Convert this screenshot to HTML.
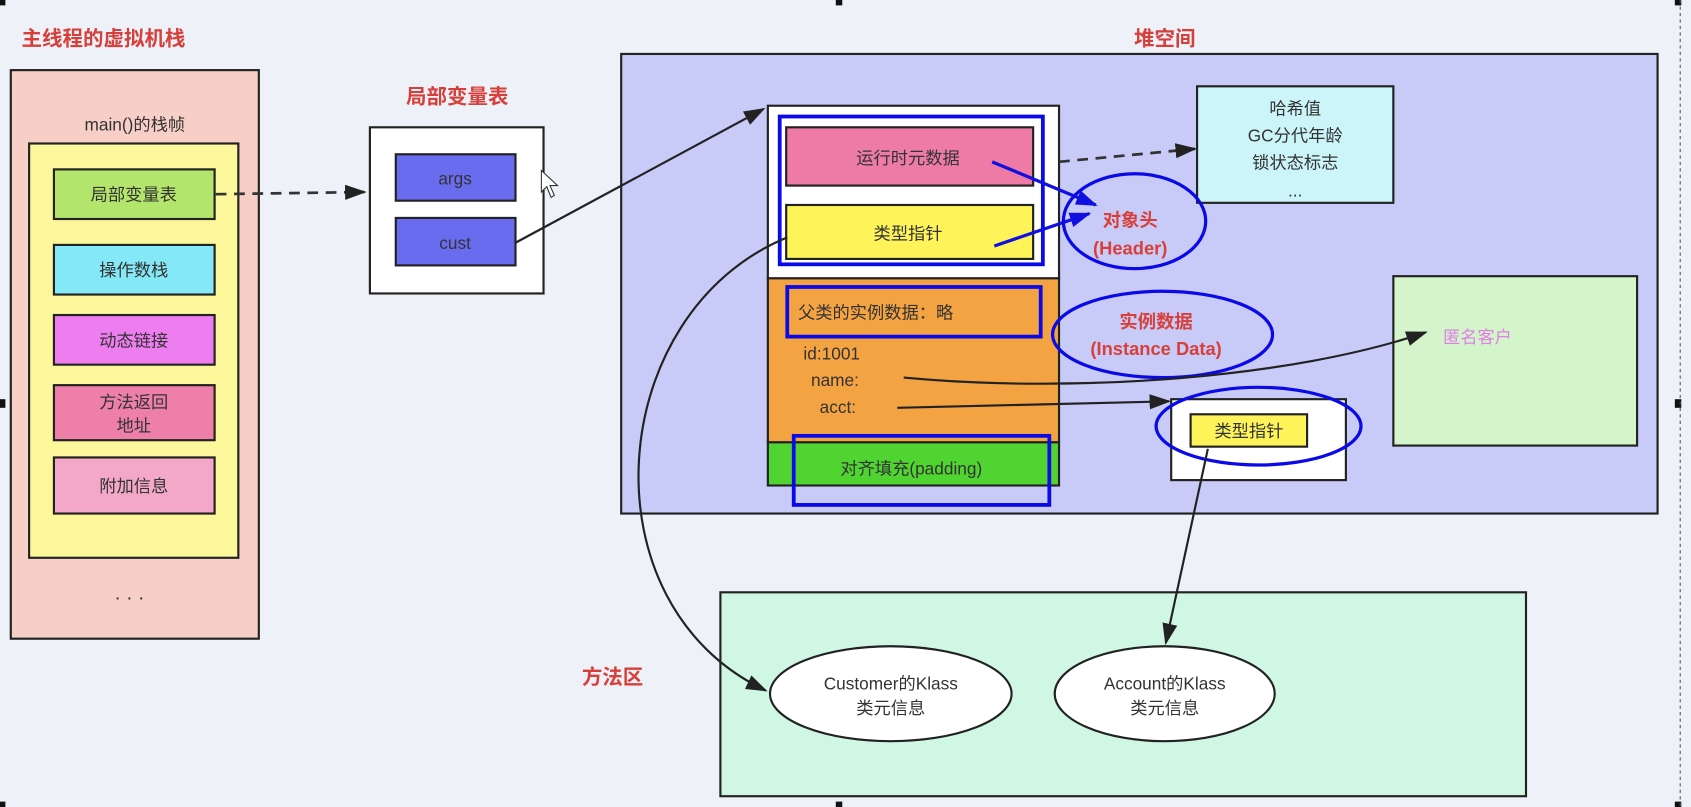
<!DOCTYPE html>
<html><head><meta charset="utf-8"><style>
html,body{margin:0;padding:0;background:#eef1f8;}
svg{display:block;}
text{font-family:"Liberation Sans","Noto Sans CJK SC",sans-serif;}
</style></head><body>
<svg width="1691" height="807" viewBox="0 0 1568 748" preserveAspectRatio="none" xmlns="http://www.w3.org/2000/svg">
<defs>
<marker id="a2" markerWidth="20" markerHeight="14" refX="18" refY="7" orient="auto" markerUnits="userSpaceOnUse"><path d="M0,0 L20,7 L0,14 z" fill="#222"/></marker>
<marker id="b" markerWidth="20" markerHeight="14" refX="18" refY="7" orient="auto" markerUnits="userSpaceOnUse"><path d="M0,0 L20,7 L0,14 z" fill="#1010e0"/></marker>
</defs>
<rect width="1568" height="748" fill="#eef1f8"/>
<g font-weight="bold" fill="#d7403a" font-size="19">
<text x="20" y="42">主线程的虚拟机栈</text>
<text x="424" y="96" text-anchor="middle">局部变量表</text>
<text x="1080" y="42" text-anchor="middle">堆空间</text>
<text x="850" y="86" text-anchor="middle">new Customer()实例</text>
<text x="1405" y="244" text-anchor="middle">字符串常量池</text>
<text x="1230" y="471" text-anchor="middle">new Account()实例</text>
<text x="568" y="634" text-anchor="middle">方法区</text>
</g>
<rect x="10" y="65" width="230" height="527" fill="#f8cfc6" stroke="#222" stroke-width="2"/>
<text x="125" y="121" font-size="16" text-anchor="middle" fill="#333">main()的栈帧</text>
<rect x="27" y="133" width="194" height="384" fill="#fdf79c" stroke="#222" stroke-width="2"/>
<g stroke="#222" stroke-width="2">
<rect x="50" y="157" width="149" height="46" fill="#b3e46b"/>
<rect x="50" y="227" width="149" height="46" fill="#84e8f6"/>
<rect x="50" y="292" width="149" height="46" fill="#ee7ef0"/>
<rect x="50" y="357" width="149" height="51" fill="#ee7fa8"/>
<rect x="50" y="424" width="149" height="52" fill="#f3a8c8"/>
</g>
<g font-size="16" fill="#333" text-anchor="middle">
<text x="124" y="186">局部变量表</text>
<text x="124" y="256">操作数栈</text>
<text x="124" y="321">动态链接</text>
<text x="124" y="378">方法返回</text>
<text x="124" y="400">地址</text>
<text x="124" y="456">附加信息</text>
<text x="120" y="560" font-size="18">· · ·</text>
</g>
<line x1="200" y1="180" x2="338" y2="178" stroke="#333" stroke-width="2.5" stroke-dasharray="10,7" marker-end="url(#a2)"/>
<rect x="343" y="118" width="161" height="154" fill="#fff" stroke="#222" stroke-width="2"/>
<rect x="367" y="143" width="111" height="43" fill="#6a6cf0" stroke="#222" stroke-width="2"/>
<rect x="367" y="202" width="111" height="44" fill="#6a6cf0" stroke="#222" stroke-width="2"/>
<text x="422" y="171" font-size="16" fill="#333" text-anchor="middle">args</text>
<text x="422" y="231" font-size="16" fill="#333" text-anchor="middle">cust</text>
<path d="M502,158 L502,178 L507,173 L511,183 L514,181 L510,172 L517,172 z" fill="#fff" stroke="#333" stroke-width="1"/>
<rect x="576" y="50" width="961" height="426" fill="#c8cbf7" stroke="#222" stroke-width="2"/>
<line x1="478" y1="225" x2="708" y2="101" stroke="#222" stroke-width="2" marker-end="url(#a2)"/>
<rect x="712" y="98" width="270" height="160" fill="#fff" stroke="#222" stroke-width="2"/>
<rect x="729" y="118" width="229" height="54" fill="#ed7ba5" stroke="#222" stroke-width="2"/>
<rect x="729" y="190" width="229" height="50" fill="#fef45a" stroke="#222" stroke-width="2"/>
<rect x="723" y="108" width="244" height="137" fill="none" stroke="#0a0ae8" stroke-width="3.5"/>
<text x="842" y="152" font-size="16" fill="#333" text-anchor="middle">运行时元数据</text>
<text x="842" y="222" font-size="16" fill="#333" text-anchor="middle">类型指针</text>
<rect x="712" y="258" width="270" height="152" fill="#f4a343" stroke="#222" stroke-width="2"/>
<rect x="712" y="410" width="270" height="40" fill="#4fd431" stroke="#222" stroke-width="2"/>
<rect x="730" y="266" width="235" height="46" fill="none" stroke="#0a0ae8" stroke-width="3.5"/>
<rect x="736" y="404" width="237" height="64" fill="none" stroke="#0a0ae8" stroke-width="3.5"/>
<g font-size="16" fill="#333">
<text x="740" y="295">父类的实例数据：略</text>
<text x="745" y="333">id:1001</text>
<text x="752" y="358">name:</text>
<text x="760" y="383">acct:</text>
<text x="845" y="440" text-anchor="middle">对齐填充(padding)</text>
</g>
<line x1="982" y1="150" x2="1108" y2="138" stroke="#333" stroke-width="2.5" stroke-dasharray="10,7" marker-end="url(#a2)"/>
<rect x="1110" y="80" width="182" height="108" fill="#ccf5fa" stroke="#222" stroke-width="2"/>
<g font-size="16" fill="#333" text-anchor="middle">
<text x="1201" y="106">哈希值</text>
<text x="1201" y="131">GC分代年龄</text>
<text x="1201" y="156">锁状态标志</text>
<text x="1201" y="182">...</text>
</g>
<line x1="920" y1="150" x2="1016" y2="190" stroke="#1010e0" stroke-width="3" marker-end="url(#b)"/>
<line x1="922" y1="228" x2="1010" y2="198" stroke="#1010e0" stroke-width="3" marker-end="url(#b)"/>
<ellipse cx="1052" cy="205" rx="66" ry="44" fill="none" stroke="#0a0ae8" stroke-width="3"/>
<ellipse cx="1078" cy="310" rx="102" ry="40" fill="none" stroke="#0a0ae8" stroke-width="3"/>
<g font-size="17" font-weight="bold" fill="#d7403a" text-anchor="middle">
<text x="1048" y="210">对象头</text>
<text x="1048" y="236">(Header)</text>
<text x="1072" y="304">实例数据</text>
<text x="1072" y="329">(Instance Data)</text>
</g>
<rect x="1292" y="256" width="226" height="157" fill="#d4f5cc" stroke="#222" stroke-width="2"/>
<text x="1338" y="318" font-size="16" fill="#e07ee6">匿名客户</text>
<path d="M838,350 C1000,365 1200,350 1322,308" fill="none" stroke="#222" stroke-width="2" marker-end="url(#a2)"/>
<line x1="832" y1="378" x2="1084" y2="372" stroke="#222" stroke-width="2" marker-end="url(#a2)"/>
<rect x="1086" y="370" width="162" height="75" fill="#fff" stroke="#222" stroke-width="2"/>
<rect x="1104" y="384" width="108" height="30" fill="#fef45a" stroke="#222" stroke-width="2"/>
<text x="1158" y="405" font-size="16" fill="#333" text-anchor="middle">类型指针</text>
<ellipse cx="1167" cy="395" rx="95" ry="36" fill="none" stroke="#0a0ae8" stroke-width="3"/>
<rect x="668" y="549" width="747" height="189" fill="#cff7e4" stroke="#222" stroke-width="2"/>
<line x1="1120" y1="416" x2="1081" y2="596" stroke="#222" stroke-width="2" marker-end="url(#a2)"/>
<path d="M730,220 C560,290 540,560 710,640" fill="none" stroke="#222" stroke-width="2" marker-end="url(#a2)"/>
<ellipse cx="826" cy="643" rx="112" ry="44" fill="#fff" stroke="#222" stroke-width="2"/>
<ellipse cx="1080" cy="643" rx="102" ry="44" fill="#fff" stroke="#222" stroke-width="2"/>
<g font-size="16" fill="#333" text-anchor="middle">
<text x="826" y="639">Customer的Klass</text>
<text x="826" y="662">类元信息</text>
<text x="1080" y="639">Account的Klass</text>
<text x="1080" y="662">类元信息</text>
</g>
<g fill="#111">
<rect x="0" y="0" width="5" height="5"/><rect x="775" y="0" width="6" height="5"/><rect x="1553" y="0" width="6" height="5"/>
<rect x="0" y="370" width="5" height="8"/><rect x="1553" y="370" width="6" height="8"/>
<rect x="0" y="743" width="5" height="5"/><rect x="775" y="743" width="6" height="5"/><rect x="1553" y="743" width="6" height="5"/>
</g>
<line x1="1558" y1="0" x2="1558" y2="748" stroke="#555" stroke-dasharray="3,3"/>
</svg>
</body></html>
